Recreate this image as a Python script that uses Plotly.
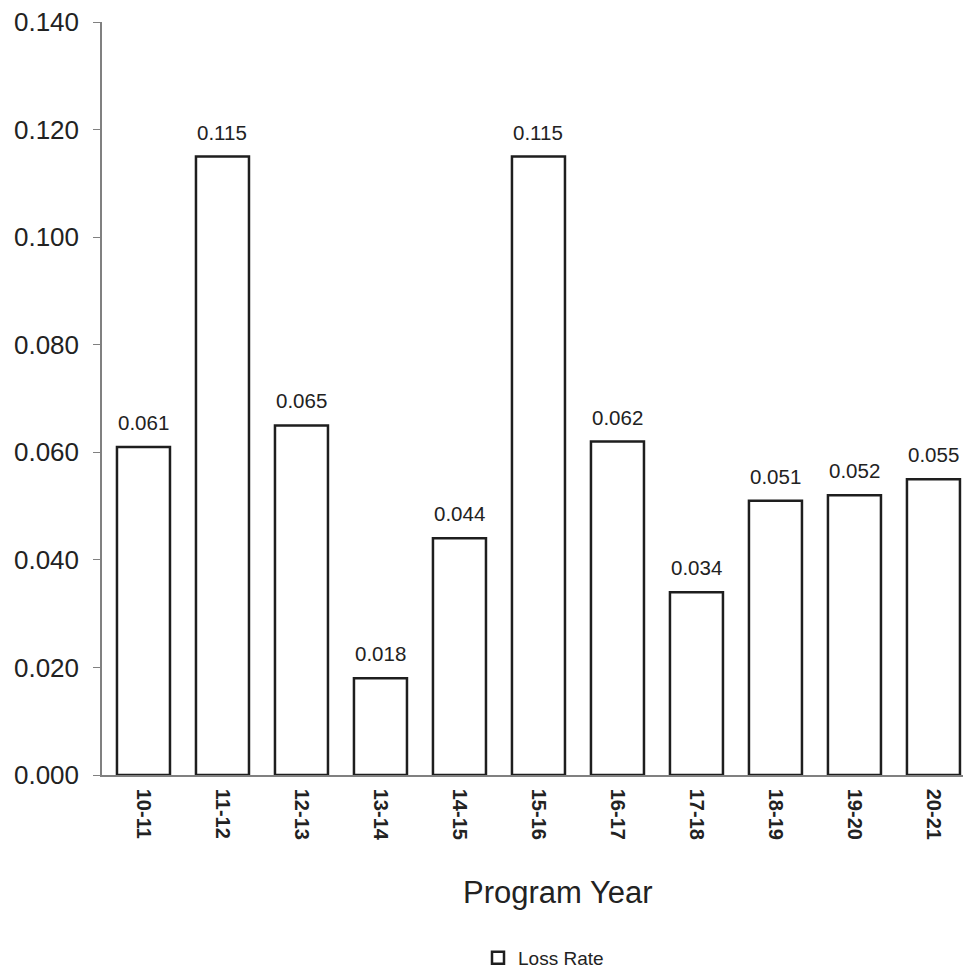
import plotly.graph_objects as go

categories = ["10-11", "11-12", "12-13", "13-14", "14-15", "15-16", "16-17", "17-18", "18-19", "19-20", "20-21"]
loss_rate = [0.061, 0.115, 0.065, 0.018, 0.044, 0.115, 0.062, 0.034, 0.051, 0.052, 0.055]
y_ticks = [0.0, 0.02, 0.04, 0.06, 0.08, 0.10, 0.12, 0.14]

FONT = "Liberation Sans, Arial, sans-serif"
W, H = 963, 963
L, R, T = 94, 8, 14
PLOT_BOTTOM = 767

fig = go.Figure()
fig.add_trace(go.Bar(
    x=categories, y=loss_rate, name="Loss Rate",
    marker=dict(color="white", line=dict(color="#1e1e1e", width=2.5)),
    cliponaxis=False,
))

# value labels above the bars
for c, v in zip(categories, loss_rate):
    fig.add_annotation(
        x=c, y=v, xref="x", yref="y", text=f"{v:.3f}",
        showarrow=False, xanchor="center", yanchor="bottom", yshift=11,
        font=dict(size=20.5, color="#222222", family=FONT),
    )

fig.add_annotation(
    text="Program Year", xref="paper", yref="paper",
    x=(550 - L) / (W - L - R), y=-(884 - PLOT_BOTTOM) / (PLOT_BOTTOM - T),
    xanchor="center", yanchor="middle", showarrow=False,
    font=dict(size=31, color="#222222", family=FONT),
)

fig.update_layout(
    width=W, height=H,
    margin=dict(l=L, r=R, t=T, b=H - PLOT_BOTTOM, autoexpand=False),
    plot_bgcolor="white", paper_bgcolor="white",
    font=dict(family=FONT, color="#222222"),
    bargap=0.329,
    showlegend=True,
    legend=dict(orientation="h", xref="container", yref="container",
                x=470 / W, xanchor="left", y=(H - 950) / H, yanchor="middle",
                font=dict(size=19, color="#222222", family=FONT)),
    xaxis=dict(
        type="category", range=[-0.525, 10.374], automargin=False,
        tickangle=90, ticklabelstandoff=8,
        tickfont=dict(size=20, color="#222222", family=FONT, weight="bold"),
        showline=True, linecolor="#808080", linewidth=1.5, ticks="",
        showgrid=False,
    ),
    yaxis=dict(
        range=[0, 0.14001], tickvals=y_ticks, tickformat=".3f", automargin=False,
        tickfont=dict(size=26, color="#222222", family=FONT),
        ticklabeloverflow="allow",
        showline=True, linecolor="#808080", linewidth=1.5,
        ticks="outside", ticklen=7, tickcolor="#808080", tickwidth=1.2,
        ticklabelstandoff=9,
        showgrid=False, zeroline=False,
    ),
)

fig.write_html("out.html")
